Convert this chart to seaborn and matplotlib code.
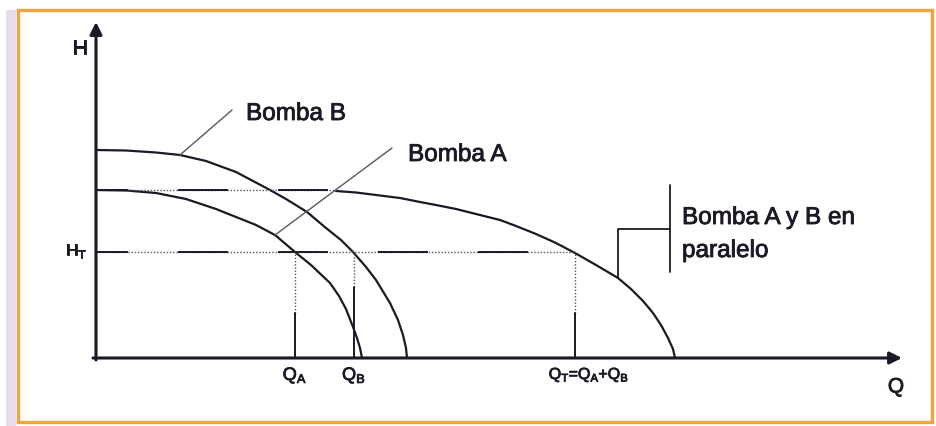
import matplotlib
matplotlib.use("Agg")
import matplotlib.pyplot as plt
import matplotlib.patheffects as pe
from matplotlib.patches import Rectangle
import pandas as pd
import seaborn as sns

# Data (Q, H; 1 unit ~ 10 px)
Q_B = [0, 3, 6, 8.4, 11, 14, 17.4, 19, 21.1, 23, 24.5, 25.7, 27, 28, 29.4, 30.2, 30.7, 31.0, 31.1]
H_B = [20.8, 20.75, 20.55, 20.3, 19.7, 18.6, 16.8, 15.9, 14.6, 13.0, 11.8, 10.6, 9.1, 7.8, 5.5, 3.8, 2.3, 1.0, 0]

Q_A = [0, 3, 6, 9, 12, 14, 16, 17.9, 19.9, 21.5, 23.4, 24.3, 25.0, 25.7, 26.1, 26.4, 26.6]
H_A = [16.8, 16.75, 16.5, 15.9, 14.9, 14.1, 13.3, 12.3, 10.6, 9.3, 7.5, 6.2, 4.9, 3.1, 2.0, 1.0, 0]

Q_AB = [24, 26, 28, 30.4, 32.4, 34, 36, 38, 40.4, 42, 44, 46, 47.9, 50, 52.2, 53.5, 54.7, 55.7, 56.5, 57.2, 57.7, 57.9]
H_AB = [16.7, 16.55, 16.3, 16.0, 15.6, 15.3, 14.9, 14.4, 13.8, 13.2, 12.4, 11.5, 10.5, 9.3, 8.0, 6.9, 5.7, 4.5, 3.3, 2.0, 0.9, 0]

H0_AB = 16.8           # shut-off head of the parallel set (flat start)
H_T = 10.6             # operating head
Q_OP = [19.9, 25.8, 47.9]          # Q_A, Q_B, Q_T
Q_OP_SOLID = [4.5, 7.1, 4.5]       # where the drop lines turn solid
Q_LABELS = [r"Q$_\mathregular{A}$", r"Q$_\mathregular{B}$",
            r"Q$_\mathregular{T}$=Q$_\mathregular{A}$+Q$_\mathregular{B}$"]

INK = "#1c1826"
GREY = "#5a5560"

sns.set_theme(style="white")
plt.rcParams["font.family"] = ["Liberation Sans", "DejaVu Sans"]
plt.rcParams["lines.scale_dashes"] = False
plt.rcParams["mathtext.fontset"] = "custom"
plt.rcParams["mathtext.rm"] = "Liberation Sans"

fig = plt.figure(figsize=(9.36, 4.26), dpi=100)
ax = fig.add_axes([0, 0, 1, 1])
ax.set_xlim(-9.6, 84.0)
ax.set_ylim(-6.8, 35.8)
ax.axis("off")

# frame
fig.patches.append(Rectangle((6 / 936, 0), 10 / 936, 416 / 426, transform=fig.transFigure,
                             color="#e6dcec", lw=0, zorder=0))
fig.patches.append(Rectangle((18 / 936, 4 / 426), 914 / 936, 412 / 426, transform=fig.transFigure,
                             fill=False, edgecolor="#f4a43c", lw=2.4, zorder=1))

# pump curves
curves = pd.concat([
    pd.DataFrame({"Q": Q_B, "H": H_B, "bomba": "B"}),
    pd.DataFrame({"Q": Q_A, "H": H_A, "bomba": "A"}),
    pd.DataFrame({"Q": Q_AB, "H": H_AB, "bomba": "A+B"}),
])
for name, d in curves.groupby("bomba"):
    sns.lineplot(data=d, x="Q", y="H", ax=ax, color=INK, lw=1.6, estimator=None, sort=False)

# mixed solid / dotted horizontals
for h, q_end in [(H0_AB, Q_AB[0]), (H_T, Q_OP[2])]:
    ax.plot([0, q_end], [h, h], color=GREY, lw=1.0, ls=(0, (1, 1.3)))
    ax.plot([0, q_end], [h, h], color=INK, lw=1.4, ls=(13, (36, 36)))

# drop lines
for q, hs in zip(Q_OP, Q_OP_SOLID):
    ax.plot([q, q], [hs, H_T], color=GREY, lw=1.0, ls=(0, (1, 1.3)))
    ax.plot([q, q], [0, hs], color=INK, lw=1.4)

# axes with arrows
ax.annotate("", xy=(80.6, 0), xytext=(-0.3, 0),
            arrowprops=dict(arrowstyle="-|>", color=INK, lw=2.2, mutation_scale=18, shrinkA=0, shrinkB=0))
ax.annotate("", xy=(0, 33.6), xytext=(0, -0.2),
            arrowprops=dict(arrowstyle="-|>", color=INK, lw=2.2, mutation_scale=18, shrinkA=0, shrinkB=0))

# leaders
ax.plot([8.4, 13.6], [20.3, 24.8], color=GREY, lw=1.0)
ax.plot([17.9, 29.6], [12.3, 21.0], color=GREY, lw=1.0)
ax.plot([52.2, 52.2, 57.4], [8.0, 12.9, 12.9], color=INK, lw=1.3)
ax.plot([57.4, 57.4], [8.6, 17.3], color=INK, lw=1.3)

# texts
bold = [pe.withStroke(linewidth=0.6, foreground=INK)]
kw = dict(color=INK, path_effects=bold)
ax.text(-1.6, 30.9, "H", fontsize=15, ha="center", va="center", **kw)
ax.text(80.0, -2.9, "Q", fontsize=15, ha="center", va="center", **kw)
ax.text(-0.9, H_T + 0.1, r"H$_\mathregular{T}$", fontsize=12, ha="right", va="center", **kw)
ax.text(15.0, 24.4, "Bomba B", fontsize=17.5, ha="left", va="center", **kw)
ax.text(31.2, 20.3, "Bomba A", fontsize=17.5, ha="left", va="center", **kw)
ax.text(58.6, 13.4, "Bomba A y B en", fontsize=17.5, ha="left", va="baseline", **kw)
ax.text(58.6, 10.1, "paralelo", fontsize=17.5, ha="left", va="baseline", **kw)
for q, lab, fs in zip(Q_OP, Q_LABELS, [13, 13, 11.5]):
    ax.text(q + (0 if fs == 13 else 1.4), -0.7, lab, fontsize=fs, ha="center", va="top", **kw)

fig.savefig("out.png", dpi=100)
